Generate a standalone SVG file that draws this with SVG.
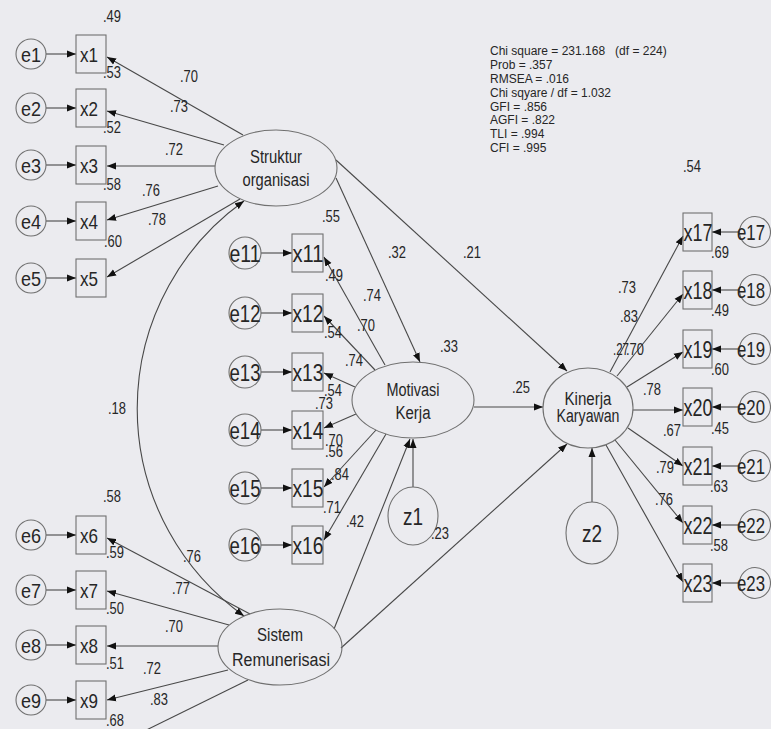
<svg xmlns="http://www.w3.org/2000/svg" width="771" height="729" viewBox="0 0 771 729">
<style>
text{font-family:"Liberation Sans",Arial,sans-serif;fill:#262626}
.c{text-anchor:middle}
.n1{font-size:21px}
.n2{font-size:24px}
.n3{font-size:21.5px}
.lat{font-size:18px}
.s{font-size:16.5px}
.fit{font-size:12.5px}
.box{fill:none;stroke:#707070;stroke-width:1.1}
.el{fill:none;stroke:#707070;stroke-width:1.1}
.ln{fill:none;stroke:#484848;stroke-width:1.1;marker-end:url(#ah)}
</style>
<defs>
<marker id="ah" markerUnits="userSpaceOnUse" markerWidth="10" markerHeight="8" refX="9" refY="4" orient="auto-start-reverse">
<path d="M0,0.5 L9,4 L0,7.5 z" fill="#111"/>
</marker>
</defs>
<rect width="771" height="729" fill="#ebebef"/>

<g id="connectors">
<path class="ln" d="M46,54 H76"/>
<path class="ln" d="M46,108 H76"/>
<path class="ln" d="M46,165 H76"/>
<path class="ln" d="M46,221 H76"/>
<path class="ln" d="M46,278 H76"/>
<path class="ln" d="M46,535 H76"/>
<path class="ln" d="M46,590 H76"/>
<path class="ln" d="M46,645 H76"/>
<path class="ln" d="M46,700 H76"/>
<path class="ln" d="M261,253 H292"/>
<path class="ln" d="M261,313 H292"/>
<path class="ln" d="M261,372 H292"/>
<path class="ln" d="M261,430 H292"/>
<path class="ln" d="M261,488 H292"/>
<path class="ln" d="M261,545 H292"/>
<path class="ln" d="M739,232 H712"/>
<path class="ln" d="M739,290 H712"/>
<path class="ln" d="M739,349 H712"/>
<path class="ln" d="M739,407 H712"/>
<path class="ln" d="M739,466 H712"/>
<path class="ln" d="M739,525 H712"/>
<path class="ln" d="M739,583 H712"/>
<path class="ln" d="M243,135 L107,57"/>
<path class="ln" d="M224,145 L107,111"/>
<path class="ln" d="M215,166 H107"/>
<path class="ln" d="M218,186 L107,220"/>
<path class="ln" d="M240,199 L107,277"/>
<path class="ln" d="M250,614 L107,538"/>
<path class="ln" d="M229,625 L107,591"/>
<path class="ln" d="M218,646 H107"/>
<path class="ln" d="M228,670 L107,700"/>
<path class="ln" d="M248,680 L120,743"/>
<path fill="none" stroke="#484848" stroke-width="1.1" marker-start="url(#ah)" marker-end="url(#ah)" d="M244,201 A255,255 0 0 0 244,616"/>
<path class="ln" d="M385,365 L324,257"/>
<path class="ln" d="M375,370 L324,316"/>
<path class="ln" d="M355,387 L324,373"/>
<path class="ln" d="M356,414 L324,428"/>
<path class="ln" d="M376,430 L324,487"/>
<path class="ln" d="M386,434 L324,540"/>
<path class="ln" d="M336,178 L420,362"/>
<path class="ln" d="M336,160 L567,371"/>
<path class="ln" d="M474,407 H543"/>
<path class="ln" d="M334,629 L410,439"/>
<path class="ln" d="M413,487 V439"/>
<path class="ln" d="M341,648 L567,444"/>
<path class="ln" d="M592,502 V448"/>
<path class="ln" d="M610,372 L683,236"/>
<path class="ln" d="M617,376 L683,294"/>
<path class="ln" d="M627,387 L683,352"/>
<path class="ln" d="M633,410 H683"/>
<path class="ln" d="M628,428 L683,466"/>
<path class="ln" d="M615,440 L683,523"/>
<path class="ln" d="M606,445 L683,582"/>
</g>

<g id="struktur"><ellipse class="el" cx="276" cy="168" rx="61" ry="38"/><text class="lat c" x="276" y="163" textLength="52" lengthAdjust="spacingAndGlyphs">Struktur</text><text class="lat c" x="276" y="186" textLength="67" lengthAdjust="spacingAndGlyphs">organisasi</text></g>
<g id="sistem"><ellipse class="el" cx="280" cy="647" rx="62" ry="38"/><text class="lat c" x="280" y="641" textLength="46" lengthAdjust="spacingAndGlyphs">Sistem</text><text class="lat c" x="281" y="666" textLength="98" lengthAdjust="spacingAndGlyphs">Remunerisasi</text></g>
<g id="motivasi"><ellipse class="el" cx="413" cy="400" rx="61" ry="38"/><text class="lat c" x="413" y="396" textLength="53" lengthAdjust="spacingAndGlyphs">Motivasi</text><text class="lat c" x="413" y="419" textLength="35" lengthAdjust="spacingAndGlyphs">Kerja</text></g>
<g id="kinerja"><ellipse class="el" cx="588" cy="408" rx="45" ry="40"/><text class="lat c" x="588" y="405" textLength="47" lengthAdjust="spacingAndGlyphs">Kinerja</text><text class="lat c" x="588" y="422" textLength="63" lengthAdjust="spacingAndGlyphs">Karyawan</text></g>
<g id="z1"><ellipse class="el" cx="413" cy="516" rx="25" ry="29"/><text class="n2 c" x="413" y="525" textLength="20" lengthAdjust="spacingAndGlyphs">z1</text></g>
<g id="z2"><ellipse class="el" cx="592" cy="533" rx="26" ry="31"/><text class="n2 c" x="592" y="542" textLength="20" lengthAdjust="spacingAndGlyphs">z2</text></g>

<g id="e1"><circle class="el" cx="31" cy="54" r="15"/><text class="n1 c" x="31" y="62" textLength="20" lengthAdjust="spacingAndGlyphs">e1</text></g>
<g id="x1"><rect class="box" x="76" y="35" width="30" height="38"/><text class="n1 c" x="89" y="62" textLength="18" lengthAdjust="spacingAndGlyphs">x1</text></g>
<g id="e2"><circle class="el" cx="31" cy="108" r="15"/><text class="n1 c" x="31" y="116" textLength="20" lengthAdjust="spacingAndGlyphs">e2</text></g>
<g id="x2"><rect class="box" x="76" y="89" width="30" height="38"/><text class="n1 c" x="89" y="116" textLength="18" lengthAdjust="spacingAndGlyphs">x2</text></g>
<g id="e3"><circle class="el" cx="31" cy="165" r="15"/><text class="n1 c" x="31" y="173" textLength="20" lengthAdjust="spacingAndGlyphs">e3</text></g>
<g id="x3"><rect class="box" x="76" y="146" width="30" height="38"/><text class="n1 c" x="89" y="173" textLength="18" lengthAdjust="spacingAndGlyphs">x3</text></g>
<g id="e4"><circle class="el" cx="31" cy="221" r="15"/><text class="n1 c" x="31" y="229" textLength="20" lengthAdjust="spacingAndGlyphs">e4</text></g>
<g id="x4"><rect class="box" x="76" y="202" width="30" height="38"/><text class="n1 c" x="89" y="229" textLength="18" lengthAdjust="spacingAndGlyphs">x4</text></g>
<g id="e5"><circle class="el" cx="31" cy="278" r="15"/><text class="n1 c" x="31" y="286" textLength="20" lengthAdjust="spacingAndGlyphs">e5</text></g>
<g id="x5"><rect class="box" x="76" y="259" width="30" height="38"/><text class="n1 c" x="89" y="286" textLength="18" lengthAdjust="spacingAndGlyphs">x5</text></g>
<g id="e6"><circle class="el" cx="31" cy="535" r="15"/><text class="n1 c" x="31" y="543" textLength="20" lengthAdjust="spacingAndGlyphs">e6</text></g>
<g id="x6"><rect class="box" x="76" y="516" width="30" height="38"/><text class="n1 c" x="89" y="543" textLength="18" lengthAdjust="spacingAndGlyphs">x6</text></g>
<g id="e7"><circle class="el" cx="31" cy="590" r="15"/><text class="n1 c" x="31" y="598" textLength="20" lengthAdjust="spacingAndGlyphs">e7</text></g>
<g id="x7"><rect class="box" x="76" y="571" width="30" height="38"/><text class="n1 c" x="89" y="598" textLength="18" lengthAdjust="spacingAndGlyphs">x7</text></g>
<g id="e8"><circle class="el" cx="31" cy="645" r="15"/><text class="n1 c" x="31" y="653" textLength="20" lengthAdjust="spacingAndGlyphs">e8</text></g>
<g id="x8"><rect class="box" x="76" y="626" width="30" height="38"/><text class="n1 c" x="89" y="653" textLength="18" lengthAdjust="spacingAndGlyphs">x8</text></g>
<g id="e9"><circle class="el" cx="31" cy="700" r="15"/><text class="n1 c" x="31" y="708" textLength="20" lengthAdjust="spacingAndGlyphs">e9</text></g>
<g id="x9"><rect class="box" x="76" y="681" width="30" height="38"/><text class="n1 c" x="89" y="708" textLength="18" lengthAdjust="spacingAndGlyphs">x9</text></g>

<g id="e11"><circle class="el" cx="245" cy="253" r="16"/><text class="n2 c" x="245" y="262" textLength="31" lengthAdjust="spacingAndGlyphs">e11</text></g>
<g id="x11"><rect class="box" x="292" y="234" width="31" height="38"/><text class="n2 c" x="308" y="262" textLength="31" lengthAdjust="spacingAndGlyphs">x11</text></g>
<g id="e12"><circle class="el" cx="245" cy="313" r="16"/><text class="n2 c" x="245" y="322" textLength="31" lengthAdjust="spacingAndGlyphs">e12</text></g>
<g id="x12"><rect class="box" x="292" y="294" width="31" height="38"/><text class="n2 c" x="308" y="322" textLength="31" lengthAdjust="spacingAndGlyphs">x12</text></g>
<g id="e13"><circle class="el" cx="245" cy="372" r="16"/><text class="n2 c" x="245" y="381" textLength="31" lengthAdjust="spacingAndGlyphs">e13</text></g>
<g id="x13"><rect class="box" x="292" y="353" width="31" height="38"/><text class="n2 c" x="308" y="381" textLength="31" lengthAdjust="spacingAndGlyphs">x13</text></g>
<g id="e14"><circle class="el" cx="245" cy="430" r="16"/><text class="n2 c" x="245" y="439" textLength="31" lengthAdjust="spacingAndGlyphs">e14</text></g>
<g id="x14"><rect class="box" x="292" y="411" width="31" height="38"/><text class="n2 c" x="308" y="439" textLength="31" lengthAdjust="spacingAndGlyphs">x14</text></g>
<g id="e15"><circle class="el" cx="245" cy="488" r="16"/><text class="n2 c" x="245" y="497" textLength="31" lengthAdjust="spacingAndGlyphs">e15</text></g>
<g id="x15"><rect class="box" x="292" y="469" width="31" height="38"/><text class="n2 c" x="308" y="497" textLength="31" lengthAdjust="spacingAndGlyphs">x15</text></g>
<g id="e16"><circle class="el" cx="245" cy="545" r="16"/><text class="n2 c" x="245" y="554" textLength="31" lengthAdjust="spacingAndGlyphs">e16</text></g>
<g id="x16"><rect class="box" x="292" y="526" width="31" height="38"/><text class="n2 c" x="308" y="554" textLength="31" lengthAdjust="spacingAndGlyphs">x16</text></g>

<g id="x17"><rect class="box" x="683" y="213" width="29" height="38"/><text class="n2 c" x="698" y="241" textLength="29" lengthAdjust="spacingAndGlyphs">x17</text></g>
<g id="e17"><circle class="el" cx="755" cy="232" r="15.5"/><text class="n3 c" x="751" y="240" textLength="28" lengthAdjust="spacingAndGlyphs">e17</text></g>
<g id="x18"><rect class="box" x="683" y="271" width="29" height="38"/><text class="n2 c" x="698" y="299" textLength="29" lengthAdjust="spacingAndGlyphs">x18</text></g>
<g id="e18"><circle class="el" cx="755" cy="290" r="15.5"/><text class="n3 c" x="751" y="298" textLength="28" lengthAdjust="spacingAndGlyphs">e18</text></g>
<g id="x19"><rect class="box" x="683" y="330" width="29" height="38"/><text class="n2 c" x="698" y="358" textLength="29" lengthAdjust="spacingAndGlyphs">x19</text></g>
<g id="e19"><circle class="el" cx="755" cy="349" r="15.5"/><text class="n3 c" x="751" y="357" textLength="28" lengthAdjust="spacingAndGlyphs">e19</text></g>
<g id="x20"><rect class="box" x="683" y="388" width="29" height="38"/><text class="n2 c" x="698" y="416" textLength="29" lengthAdjust="spacingAndGlyphs">x20</text></g>
<g id="e20"><circle class="el" cx="755" cy="407" r="15.5"/><text class="n3 c" x="751" y="415" textLength="28" lengthAdjust="spacingAndGlyphs">e20</text></g>
<g id="x21"><rect class="box" x="683" y="447" width="29" height="38"/><text class="n2 c" x="698" y="475" textLength="29" lengthAdjust="spacingAndGlyphs">x21</text></g>
<g id="e21"><circle class="el" cx="755" cy="466" r="15.5"/><text class="n3 c" x="751" y="474" textLength="28" lengthAdjust="spacingAndGlyphs">e21</text></g>
<g id="x22"><rect class="box" x="683" y="506" width="29" height="38"/><text class="n2 c" x="698" y="534" textLength="29" lengthAdjust="spacingAndGlyphs">x22</text></g>
<g id="e22"><circle class="el" cx="755" cy="525" r="15.5"/><text class="n3 c" x="751" y="533" textLength="28" lengthAdjust="spacingAndGlyphs">e22</text></g>
<g id="x23"><rect class="box" x="683" y="564" width="29" height="38"/><text class="n2 c" x="698" y="592" textLength="29" lengthAdjust="spacingAndGlyphs">x23</text></g>
<g id="e23"><circle class="el" cx="755" cy="583" r="15.5"/><text class="n3 c" x="751" y="591" textLength="28" lengthAdjust="spacingAndGlyphs">e23</text></g>

<g id="labels" class="s">
<text x="103" y="22" textLength="18" lengthAdjust="spacingAndGlyphs">.49</text>
<text x="103" y="78" textLength="18" lengthAdjust="spacingAndGlyphs">.53</text>
<text x="103" y="133" textLength="18" lengthAdjust="spacingAndGlyphs">.52</text>
<text x="103" y="190" textLength="18" lengthAdjust="spacingAndGlyphs">.58</text>
<text x="104" y="247" textLength="18" lengthAdjust="spacingAndGlyphs">.60</text>
<text x="180" y="82" textLength="18" lengthAdjust="spacingAndGlyphs">.70</text>
<text x="170" y="112" textLength="18" lengthAdjust="spacingAndGlyphs">.73</text>
<text x="165" y="155" textLength="18" lengthAdjust="spacingAndGlyphs">.72</text>
<text x="142" y="196" textLength="18" lengthAdjust="spacingAndGlyphs">.76</text>
<text x="148" y="225" textLength="18" lengthAdjust="spacingAndGlyphs">.78</text>
<text x="108" y="414" textLength="18" lengthAdjust="spacingAndGlyphs">.18</text>
<text x="103" y="502" textLength="18" lengthAdjust="spacingAndGlyphs">.58</text>
<text x="106" y="558" textLength="18" lengthAdjust="spacingAndGlyphs">.59</text>
<text x="106" y="614" textLength="18" lengthAdjust="spacingAndGlyphs">.50</text>
<text x="106" y="669" textLength="18" lengthAdjust="spacingAndGlyphs">.51</text>
<text x="106" y="726" textLength="18" lengthAdjust="spacingAndGlyphs">.68</text>
<text x="183" y="562" textLength="18" lengthAdjust="spacingAndGlyphs">.76</text>
<text x="172" y="594" textLength="18" lengthAdjust="spacingAndGlyphs">.77</text>
<text x="165" y="632" textLength="18" lengthAdjust="spacingAndGlyphs">.70</text>
<text x="143" y="674" textLength="18" lengthAdjust="spacingAndGlyphs">.72</text>
<text x="150" y="705" textLength="18" lengthAdjust="spacingAndGlyphs">.83</text>
<text x="322" y="222" textLength="18" lengthAdjust="spacingAndGlyphs">.55</text>
<text x="325" y="281" textLength="18" lengthAdjust="spacingAndGlyphs">.49</text>
<text x="363" y="301" textLength="18" lengthAdjust="spacingAndGlyphs">.74</text>
<text x="357" y="331" textLength="18" lengthAdjust="spacingAndGlyphs">.70</text>
<text x="324" y="338" textLength="18" lengthAdjust="spacingAndGlyphs">.54</text>
<text x="345" y="366" textLength="18" lengthAdjust="spacingAndGlyphs">.74</text>
<text x="324" y="396" textLength="18" lengthAdjust="spacingAndGlyphs">.54</text>
<text x="315" y="409" textLength="18" lengthAdjust="spacingAndGlyphs">.73</text>
<text x="325" y="446" textLength="18" lengthAdjust="spacingAndGlyphs">.70</text>
<text x="325" y="457" textLength="18" lengthAdjust="spacingAndGlyphs">.56</text>
<text x="331" y="480" textLength="18" lengthAdjust="spacingAndGlyphs">.84</text>
<text x="323" y="513" textLength="18" lengthAdjust="spacingAndGlyphs">.71</text>
<text x="346" y="527" textLength="18" lengthAdjust="spacingAndGlyphs">.42</text>
<text x="388" y="258" textLength="18" lengthAdjust="spacingAndGlyphs">.32</text>
<text x="463" y="258" textLength="18" lengthAdjust="spacingAndGlyphs">.21</text>
<text x="440" y="352" textLength="18" lengthAdjust="spacingAndGlyphs">.33</text>
<text x="512" y="393" textLength="18" lengthAdjust="spacingAndGlyphs">.25</text>
<text x="431" y="539" textLength="18" lengthAdjust="spacingAndGlyphs">.23</text>
<text x="683" y="172" textLength="18" lengthAdjust="spacingAndGlyphs">.54</text>
<text x="711" y="258" textLength="18" lengthAdjust="spacingAndGlyphs">.69</text>
<text x="711" y="316" textLength="18" lengthAdjust="spacingAndGlyphs">.49</text>
<text x="711" y="375" textLength="18" lengthAdjust="spacingAndGlyphs">.60</text>
<text x="711" y="434" textLength="18" lengthAdjust="spacingAndGlyphs">.45</text>
<text x="710" y="492" textLength="18" lengthAdjust="spacingAndGlyphs">.63</text>
<text x="710" y="551" textLength="18" lengthAdjust="spacingAndGlyphs">.58</text>
<text x="618" y="293" textLength="18" lengthAdjust="spacingAndGlyphs">.73</text>
<text x="620" y="322" textLength="18" lengthAdjust="spacingAndGlyphs">.83</text>
<text x="613" y="355" textLength="16" lengthAdjust="spacingAndGlyphs">.27</text>
<text x="626" y="355" textLength="18" lengthAdjust="spacingAndGlyphs">.70</text>
<text x="643" y="395" textLength="18" lengthAdjust="spacingAndGlyphs">.78</text>
<text x="663" y="436" textLength="18" lengthAdjust="spacingAndGlyphs">.67</text>
<text x="656" y="473" textLength="18" lengthAdjust="spacingAndGlyphs">.79</text>
<text x="655" y="505" textLength="18" lengthAdjust="spacingAndGlyphs">.76</text>
</g>

<g id="fit" class="fit" transform="matrix(0.96 0 0 1 19.6 0)">
<text x="490" y="55" xml:space="preserve">Chi square = 231.168   (df = 224)</text>
<text x="490" y="69">Prob = .357</text>
<text x="490" y="83">RMSEA = .016</text>
<text x="490" y="97">Chi sqyare / df = 1.032</text>
<text x="490" y="111">GFI = .856</text>
<text x="490" y="124">AGFI = .822</text>
<text x="490" y="138">TLI = .994</text>
<text x="490" y="152">CFI = .995</text>
</g>
</svg>
